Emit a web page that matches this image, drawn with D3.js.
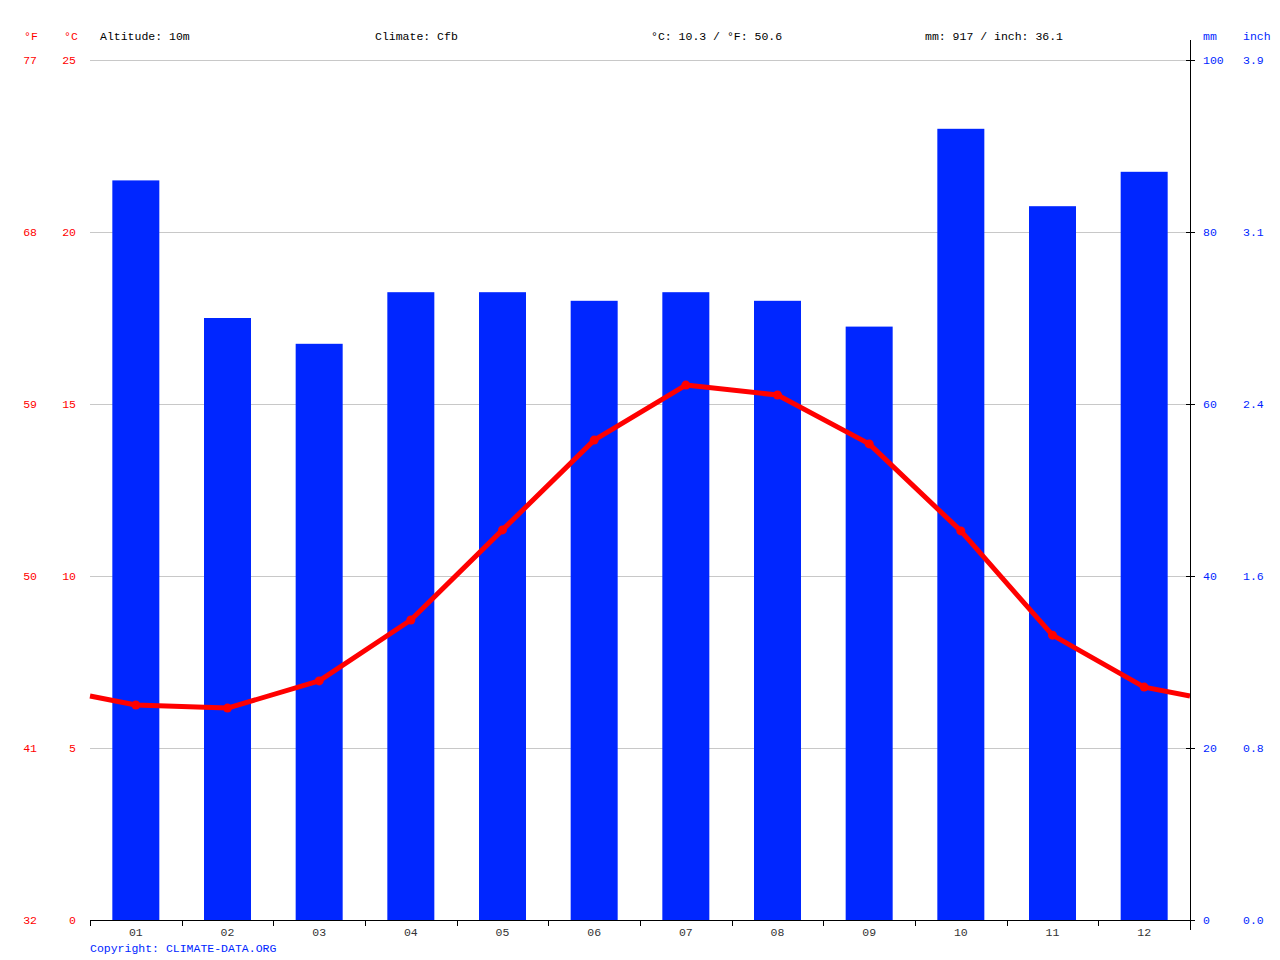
<!DOCTYPE html>
<html>
<head>
<meta charset="utf-8">
<script src="https://cdn.jsdelivr.net/npm/d3@7"></script>
<style>
    body { margin: 0; background: #fff; }
    text { font-family: "Liberation Mono", "DejaVu Sans Mono", monospace; font-size: 11.5px; }
</style>
</head>
<body>
<div id="chart"></div>
<script>
var months = ["01", "02", "03", "04", "05", "06", "07", "08", "09", "10", "11", "12"];
var precip = [86, 70, 67, 73, 73, 72, 73, 72, 69, 92, 83, 87];
var temps = [6.25, 6.16, 6.95, 8.72, 11.34, 13.95, 15.55, 15.26, 13.84, 11.31, 8.28, 6.77];
var tempTicks = [0, 5, 10, 15, 20, 25];
var fTicks = ["32", "41", "50", "59", "68", "77"];
var mmTicks = [0, 20, 40, 60, 80, 100];
var inchTicks = ["0.0", "0.8", "1.6", "2.4", "3.1", "3.9"];

function init() {
    var w = 1280;
    var h = 960;
    var left = 90, right = 1190, top = 60, bottom = 920;
    var red = "#ff0000";
    var blue = "#0026ff";

    var svg = d3.select("#chart")
        .append("svg")
        .attr("width", w)
        .attr("height", h);

    var xScale = d3.scaleBand()
        .domain(months)
        .range([left, right]);

    var yTemp = d3.scaleLinear()
        .domain([0, 25])
        .range([bottom, top]);

    var yMm = d3.scaleLinear()
        .domain([0, 100])
        .range([bottom, top]);

    // grid lines
    svg.selectAll("line.grid")
        .data(tempTicks.slice(1))
        .enter()
        .append("line")
        .attr("x1", left)
        .attr("x2", right)
        .attr("y1", function(d) { return yTemp(d) + 0.5; })
        .attr("y2", function(d) { return yTemp(d) + 0.5; })
        .attr("stroke", "#c8c8c8")
        .attr("stroke-width", 1);

    // bars
    var barW = 47;
    svg.selectAll("rect.bar")
        .data(precip)
        .enter()
        .append("rect")
        .attr("x", function(d, i) { return xScale(months[i]) + xScale.bandwidth() / 2 - barW / 2; })
        .attr("y", function(d) { return yMm(d); })
        .attr("width", barW)
        .attr("height", function(d) { return bottom - yMm(d); })
        .attr("fill", blue);

    // temperature line, extended to edges with Dec/Jan midpoint
    var edge = (temps[0] + temps[11]) / 2;
    var pts = [[left, yTemp(edge)]];
    temps.forEach(function(d, i) {
        pts.push([xScale(months[i]) + xScale.bandwidth() / 2, yTemp(d)]);
    });
    pts.push([right, yTemp(edge)]);

    svg.append("path")
        .attr("d", d3.line()(pts))
        .attr("fill", "none")
        .attr("stroke", red)
        .attr("stroke-width", 5)
        .attr("stroke-linejoin", "round");

    svg.selectAll("circle.pt")
        .data(temps)
        .enter()
        .append("circle")
        .attr("cx", function(d, i) { return xScale(months[i]) + xScale.bandwidth() / 2; })
        .attr("cy", function(d) { return yTemp(d); })
        .attr("r", 4.5)
        .attr("fill", red);

    // bottom axis
    svg.append("line")
        .attr("x1", left).attr("x2", right)
        .attr("y1", bottom + 0.5).attr("y2", bottom + 0.5)
        .attr("stroke", "#000");

    svg.selectAll("line.xtick")
        .data(d3.range(13))
        .enter()
        .append("line")
        .attr("x1", function(i) { return Math.round(left + i * xScale.bandwidth()) + 0.5; })
        .attr("x2", function(i) { return Math.round(left + i * xScale.bandwidth()) + 0.5; })
        .attr("y1", bottom)
        .attr("y2", bottom + 6)
        .attr("stroke", "#000");

    svg.selectAll("text.xlab")
        .data(months)
        .enter()
        .append("text")
        .attr("x", function(d) { return xScale(d) + xScale.bandwidth() / 2; })
        .attr("y", bottom + 16)
        .attr("text-anchor", "middle")
        .attr("fill", "#333")
        .text(function(d) { return d; });

    // right axis
    svg.append("line")
        .attr("x1", right + 0.5).attr("x2", right + 0.5)
        .attr("y1", 40).attr("y2", bottom + 10)
        .attr("stroke", "#000");

    svg.selectAll("line.ytick")
        .data(mmTicks)
        .enter()
        .append("line")
        .attr("x1", right - 4)
        .attr("x2", right + 5)
        .attr("y1", function(d) { return yMm(d) + 0.5; })
        .attr("y2", function(d) { return yMm(d) + 0.5; })
        .attr("stroke", "#000");

    // left labels
    svg.selectAll("text.c")
        .data(tempTicks)
        .enter()
        .append("text")
        .attr("x", 76)
        .attr("y", function(d) { return yTemp(d) + 4; })
        .attr("text-anchor", "end")
        .attr("fill", red)
        .text(function(d) { return d; });

    svg.selectAll("text.f")
        .data(fTicks)
        .enter()
        .append("text")
        .attr("x", 37)
        .attr("y", function(d, i) { return yTemp(tempTicks[i]) + 4; })
        .attr("text-anchor", "end")
        .attr("fill", red)
        .text(function(d) { return d; });

    // right labels
    svg.selectAll("text.mm")
        .data(mmTicks)
        .enter()
        .append("text")
        .attr("x", 1203)
        .attr("y", function(d) { return yMm(d) + 4; })
        .attr("fill", blue)
        .text(function(d) { return d; });

    svg.selectAll("text.inch")
        .data(inchTicks)
        .enter()
        .append("text")
        .attr("x", 1243)
        .attr("y", function(d, i) { return yMm(mmTicks[i]) + 4; })
        .attr("fill", blue)
        .text(function(d) { return d; });

    // header
    var header = [
        { x: 24, t: "°F", c: red },
        { x: 64, t: "°C", c: red },
        { x: 100, t: "Altitude: 10m", c: "#000" },
        { x: 375, t: "Climate: Cfb", c: "#000" },
        { x: 651, t: "°C: 10.3 / °F: 50.6", c: "#000" },
        { x: 925, t: "mm: 917 / inch: 36.1", c: "#000" },
        { x: 1203, t: "mm", c: blue },
        { x: 1243, t: "inch", c: blue }
    ];
    svg.selectAll("text.hdr")
        .data(header)
        .enter()
        .append("text")
        .attr("x", function(d) { return d.x; })
        .attr("y", 40)
        .attr("fill", function(d) { return d.c; })
        .text(function(d) { return d.t; });

    svg.append("text")
        .attr("x", 90)
        .attr("y", 952)
        .attr("fill", blue)
        .text("Copyright: CLIMATE-DATA.ORG");
}

window.onload = init;
</script>
</body>
</html>
